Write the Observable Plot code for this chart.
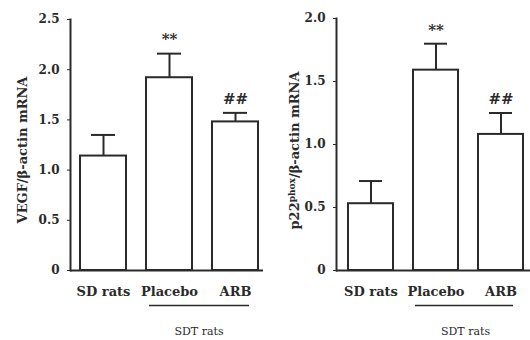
<!DOCTYPE html>
<html><head><meta charset="utf-8">
<script src="https://cdn.jsdelivr.net/npm/d3@7"></script>
<script src="https://cdn.jsdelivr.net/npm/@observablehq/plot@0.6"></script>
<style>
body{margin:0;background:#fff;}
#wrap{display:flex;width:530px;height:340px;overflow:hidden;}
</style></head><body><div id="wrap"></div>
<script>
const groups = ["SD rats", "Placebo", "ARB"];
const vegfMean = [1.14, 1.92, 1.48];
const vegfErr = [0.21, 0.24, 0.09];
const vegfSig = ["", "**", "##"];
const vegfTicks = [0, 0.5, 1, 1.5, 2, 2.5];
const vegfTitle = "VEGF/β-actin mRNA";

const p22Mean = [0.53, 1.59, 1.08];
const p22Err = [0.18, 0.21, 0.17];
const p22Sig = ["", "**", "##"];
const p22Ticks = [0, 0.5, 1, 1.5, 2];
const p22Title = "p22phox/β-actin mRNA";

const subgroupLabel = "SDT rats";
const subgroupFrom = "Placebo";
const subgroupTo = "ARB";

const FONT = "DejaVu Serif";
const INK = "#2a2a2a";

function chart(cfg) {
  const data = groups.map((g, i) => ({g, m: cfg.mean[i], e: cfg.err[i], s: cfg.sig[i]}));
  const yMax = cfg.ticks[cfg.ticks.length - 1];
  const svg = Plot.plot({
    width: 265, height: 340,
    marginTop: cfg.mt, marginBottom: 70, marginLeft: cfg.ml, marginRight: cfg.mr,
    style: {fontFamily: FONT, color: INK, background: "white", overflow: "visible"},
    x: {domain: groups, range: cfg.xr, paddingInner: 0.31, paddingOuter: 0},
    y: {domain: [0, yMax]},
    marks: [
      Plot.ruleX(data, {x: "g", y1: "m", y2: d => d.m + d.e, stroke: INK, strokeWidth: 2}),
      Plot.tickY(data, {x: "g", y: d => d.m + d.e, stroke: INK, strokeWidth: 2, insetLeft: 11, insetRight: 11}),
      Plot.barY(data, {x: "g", y: "m", fill: "white", stroke: INK, strokeWidth: 2}),
      Plot.text(data, {x: "g", y: d => d.m + d.e, text: "s", dy: -14, fontSize: 15, fontWeight: "bold", fill: INK, letterSpacing: "3px"}),
      Plot.ruleY([0], {stroke: INK, strokeWidth: 2}),
      Plot.frame({anchor: "left", stroke: INK, strokeWidth: 2}),
      Plot.axisY({ticks: cfg.ticks, tickFormat: d => d === 0 ? "0" : d.toFixed(1), tickSize: 3, tickPadding: 8, fontSize: 12, fontWeight: "bold", label: null, stroke: INK}),
      Plot.axisX({tickSize: 0, tickPadding: 16, fontSize: 13, fontWeight: "bold", label: null}),
      Plot.ruleY([{y: 0, a: subgroupFrom, b: subgroupTo}], {y: "y", x1: "a", x2: "b", dy: 35, stroke: INK, strokeWidth: 1.5, insetLeft: cfg.ulL, insetRight: cfg.ulR}),
      Plot.text([subgroupLabel], {frameAnchor: "bottom", lineAnchor: "middle", dx: 32, dy: 61, text: d => d, fontSize: 11, fill: INK}),
      Plot.text([cfg.title], {frameAnchor: "left", textAnchor: "middle", lineAnchor: "middle", rotate: -90, dx: cfg.tdx, dy: cfg.tdy, text: d => d, fontSize: 13, fontWeight: "bold", fill: INK})
    ]
  });
  return svg;
}

const wrap = document.getElementById("wrap");
const left = chart({mean: vegfMean, err: vegfErr, sig: vegfSig, ticks: vegfTicks, title: vegfTitle,
  mt: 19, ml: 70, mr: 2, xr: [79, 259], ulL: 3, ulR: 9, tdx: -48, tdy: 5});
const right = chart({mean: p22Mean, err: p22Err, sig: p22Sig, ticks: p22Ticks, title: p22Title,
  mt: 18, ml: 71, mr: 0, xr: [82, 258], ulL: 2, ulR: 10, tdx: -42, tdy: 6});
wrap.append(left, right);

// superscript "phox" in the right title
const ns = "http://www.w3.org/2000/svg";
for (const t of right.querySelectorAll("text")) {
  if (t.textContent !== p22Title) continue;
  t.textContent = "";
  const parts = [["p22", null], ["phox", "sup"], ["/β-actin mRNA", "back"]];
  for (const [s, k] of parts) {
    const ts = document.createElementNS(ns, "tspan");
    ts.textContent = s;
    if (k === "sup") { ts.setAttribute("dy", "-4"); ts.setAttribute("font-size", "9"); }
    if (k === "back") { ts.setAttribute("dy", "4"); }
    t.appendChild(ts);
  }
}
</script></body></html>
